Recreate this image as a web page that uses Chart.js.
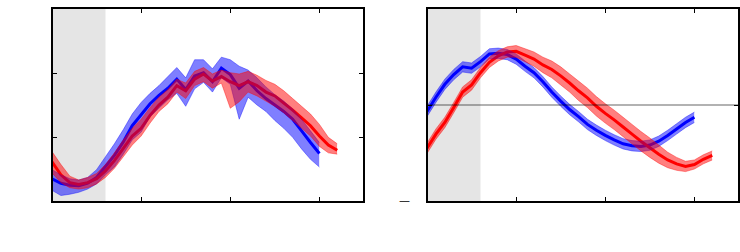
<!DOCTYPE html>
<html>
<head>
<meta charset="utf-8">
<script src="https://cdn.jsdelivr.net/npm/chart.js@4/dist/chart.umd.min.js"></script>
<style>
  body { margin: 0; background: #fff; }
  .wrap { position: relative; width: 740px; height: 252px; overflow: hidden; }
  .panel { position: absolute; top: 2px; width: 324px; height: 206px; }
  .dash { position: absolute; left: 399px; top: 194px; font: 11px "DejaVu Sans"; color: #000; }
</style>
</head>
<body>
<div class="wrap">
  <div class="panel" style="left:46px"><canvas id="left"></canvas></div>
  <div class="panel" style="left:421px"><canvas id="right"></canvas></div>
  <div class="dash">—</div>
</div>
<script>
(function(){
    // shared x positions (red runs to 3.2, blue stops at 3.0)
    let xs = [0, 0.1, 0.2, 0.3, 0.4, 0.5, 0.6, 0.7, 0.8, 0.9,
              1.0, 1.1, 1.2, 1.3, 1.4, 1.5, 1.6, 1.7, 1.8, 1.9,
              2.0, 2.1, 2.2, 2.3, 2.4, 2.5, 2.6, 2.7, 2.8, 2.9,
              3.0, 3.1, 3.2];
    let shadeEnd = 0.6;
    let xTicks = [1, 2, 3];
    let leftYTicks = [1, 2];
    let rightYTicks = [0];

    // left panel
    let leftBlue = [0.36, 0.29, 0.26, 0.25, 0.29, 0.38, 0.55, 0.72, 0.93, 1.18,
                    1.35, 1.52, 1.65, 1.76, 1.90, 1.74, 1.95, 2.00, 1.86, 2.07,
                    1.97, 1.76, 1.87, 1.72, 1.60, 1.50, 1.40, 1.28, 1.10, 0.92,
                    0.75];
    let leftBlueLo = [0.18, 0.10, 0.12, 0.15, 0.20, 0.28, 0.42, 0.54, 0.74, 0.96,
                      1.08, 1.32, 1.45, 1.58, 1.68, 1.48, 1.75, 1.85, 1.70, 1.92,
                      1.82, 1.28, 1.62, 1.50, 1.40, 1.26, 1.14, 1.00, 0.82, 0.66,
                      0.54];
    let leftBlueHi = [0.50, 0.42, 0.36, 0.34, 0.38, 0.50, 0.70, 0.90, 1.12, 1.36,
                      1.54, 1.68, 1.80, 1.94, 2.08, 1.92, 2.20, 2.20, 2.06, 2.24,
                      2.20, 2.10, 2.04, 1.92, 1.78, 1.66, 1.56, 1.44, 1.28, 1.10,
                      0.92];
    let leftRed = [0.62, 0.42, 0.30, 0.27, 0.30, 0.36, 0.48, 0.64, 0.83, 1.02,
                   1.14, 1.34, 1.50, 1.62, 1.80, 1.72, 1.90, 1.98, 1.87, 1.94,
                   1.86, 1.80, 1.86, 1.80, 1.70, 1.64, 1.53, 1.42, 1.30, 1.18,
                   1.02, 0.88, 0.80];
    let leftRedLo = [0.45, 0.30, 0.22, 0.20, 0.22, 0.28, 0.38, 0.52, 0.70, 0.88,
                     1.02, 1.22, 1.40, 1.52, 1.70, 1.60, 1.80, 1.86, 1.76, 1.84,
                     1.45, 1.55, 1.70, 1.64, 1.56, 1.48, 1.38, 1.26, 1.14, 1.02,
                     0.86, 0.76, 0.74];
    let leftRedHi = [0.78, 0.58, 0.40, 0.34, 0.38, 0.44, 0.58, 0.76, 0.96, 1.14,
                     1.28, 1.46, 1.62, 1.74, 1.90, 1.84, 2.02, 2.08, 1.98, 2.04,
                     2.00, 1.98, 2.02, 1.96, 1.88, 1.82, 1.72, 1.60, 1.48, 1.36,
                     1.20, 1.00, 0.90];

    // right panel
    let rightBlue = [-0.10, 0.12, 0.32, 0.47, 0.59, 0.57, 0.67, 0.79, 0.80, 0.78,
                     0.71, 0.60, 0.50, 0.36, 0.20, 0.06, -0.07, -0.18, -0.30, -0.39,
                     -0.47, -0.54, -0.60, -0.63, -0.64, -0.62, -0.56, -0.47, -0.37, -0.27,
                     -0.19];
    let rightBlueSpread = [0.08, 0.08, 0.08, 0.08, 0.08, 0.08, 0.08, 0.08, 0.08, 0.08,
                           0.08, 0.08, 0.08, 0.08, 0.08, 0.08, 0.08, 0.08, 0.08, 0.08,
                           0.08, 0.08, 0.08, 0.08, 0.08, 0.08, 0.08, 0.08, 0.08, 0.08,
                           0.08];
    let rightRed = [-0.67, -0.45, -0.27, -0.04, 0.20, 0.31, 0.50, 0.66, 0.76, 0.82,
                    0.83, 0.77, 0.71, 0.62, 0.55, 0.45, 0.34, 0.22, 0.11, -0.02,
                    -0.13, -0.23, -0.34, -0.45, -0.56, -0.66, -0.76, -0.85, -0.91, -0.95,
                    -0.92, -0.84, -0.78];
    let rightRedSpread = [0.08, 0.08, 0.08, 0.08, 0.08, 0.08, 0.08, 0.08, 0.08, 0.08,
                          0.09, 0.10, 0.11, 0.12, 0.13, 0.14, 0.14, 0.15, 0.15, 0.15,
                          0.15, 0.15, 0.15, 0.15, 0.15, 0.15, 0.14, 0.12, 0.10, 0.08,
                          0.07, 0.07, 0.07];

    let blue = '#0000ff', red = '#ff0000';
    let blueFill = 'rgba(0,0,255,0.5)', redFill = 'rgba(255,0,0,0.5)';

    let toPoints = (values) => values.map((v, i) => ({x: xs[i], y: v}));

    let bandSets = function(lo, hi, fill) {
        return [
            {data: toPoints(lo), borderColor: fill, borderWidth: 0.8,
             pointRadius: 0, fill: false},
            {data: toPoints(hi), borderColor: fill, borderWidth: 0.8,
             backgroundColor: fill, pointRadius: 0, fill: '-1'}
        ];
    };

    let lineSet = function(values, color) {
        return {data: toPoints(values), borderColor: color, borderWidth: 3,
                pointRadius: 0, fill: false};
    };

    // grey shading, zero line, frame and inward ticks
    let decor = function(yTicks, zeroLine) {
        return {
            id: 'decor',
            beforeDatasetsDraw(chart) {
                let ctx = chart.ctx, a = chart.chartArea, x = chart.scales.x;
                ctx.save();
                ctx.fillStyle = '#e5e5e5';
                ctx.fillRect(a.left, a.top, x.getPixelForValue(shadeEnd) - a.left, a.bottom - a.top);
                ctx.restore();
            },
            afterDatasetsDraw(chart) {
                let ctx = chart.ctx, a = chart.chartArea;
                let x = chart.scales.x, y = chart.scales.y;
                ctx.save();
                if (zeroLine) {
                    let py = y.getPixelForValue(0);
                    ctx.strokeStyle = 'rgba(0,0,0,0.3)';
                    ctx.lineWidth = 2;
                    ctx.beginPath();
                    ctx.moveTo(a.left, py);
                    ctx.lineTo(a.right, py);
                    ctx.stroke();
                }
                ctx.strokeStyle = '#000';
                ctx.lineWidth = 1;
                ctx.beginPath();
                xTicks.forEach((t) => {
                    let px = Math.round(x.getPixelForValue(t)) + 0.5;
                    ctx.moveTo(px, a.top); ctx.lineTo(px, a.top + 5);
                    ctx.moveTo(px, a.bottom); ctx.lineTo(px, a.bottom - 5);
                });
                yTicks.forEach((t) => {
                    let py = Math.round(y.getPixelForValue(t)) + 0.5;
                    ctx.moveTo(a.left, py); ctx.lineTo(a.left + 5, py);
                    ctx.moveTo(a.right, py); ctx.lineTo(a.right - 5, py);
                });
                ctx.stroke();
                ctx.lineWidth = 2;
                ctx.strokeRect(a.left, a.top, a.right - a.left, a.bottom - a.top);
                ctx.restore();
            }
        };
    };

    let makeChart = function(id, datasets, yMin, yMax, yTicks, zeroLine) {
        new Chart(document.getElementById(id), {
            type: 'line',
            data: {datasets: datasets},
            options: {
                responsive: false,
                animation: false,
                layout: {padding: 6},
                plugins: {legend: {display: false}, tooltip: {enabled: false}},
                elements: {line: {tension: 0}},
                scales: {
                    x: {type: 'linear', min: 0, max: 3.5, display: false},
                    y: {type: 'linear', min: yMin, max: yMax, display: false}
                }
            },
            plugins: [decor(yTicks, zeroLine)]
        });
    };

    let sized = (id) => {
        let c = document.getElementById(id);
        c.width = 324; c.height = 206;
    };
    sized('left'); sized('right');

    makeChart('left', [].concat(
        bandSets(leftRedLo, leftRedHi, redFill),
        bandSets(leftBlueLo, leftBlueHi, blueFill),
        [lineSet(leftRed, red), lineSet(leftBlue, blue)]
    ), 0, 3, leftYTicks, false);

    let rBlueLo = rightBlue.map((v, i) => v - rightBlueSpread[i]);
    let rBlueHi = rightBlue.map((v, i) => v + rightBlueSpread[i]);
    let rRedLo = rightRed.map((v, i) => v - rightRedSpread[i]);
    let rRedHi = rightRed.map((v, i) => v + rightRedSpread[i]);

    makeChart('right', [].concat(
        bandSets(rRedLo, rRedHi, redFill),
        bandSets(rBlueLo, rBlueHi, blueFill),
        [lineSet(rightRed, red), lineSet(rightBlue, blue)]
    ), -1.5, 1.5, rightYTicks, true);
})();
</script>
</body>
</html>
